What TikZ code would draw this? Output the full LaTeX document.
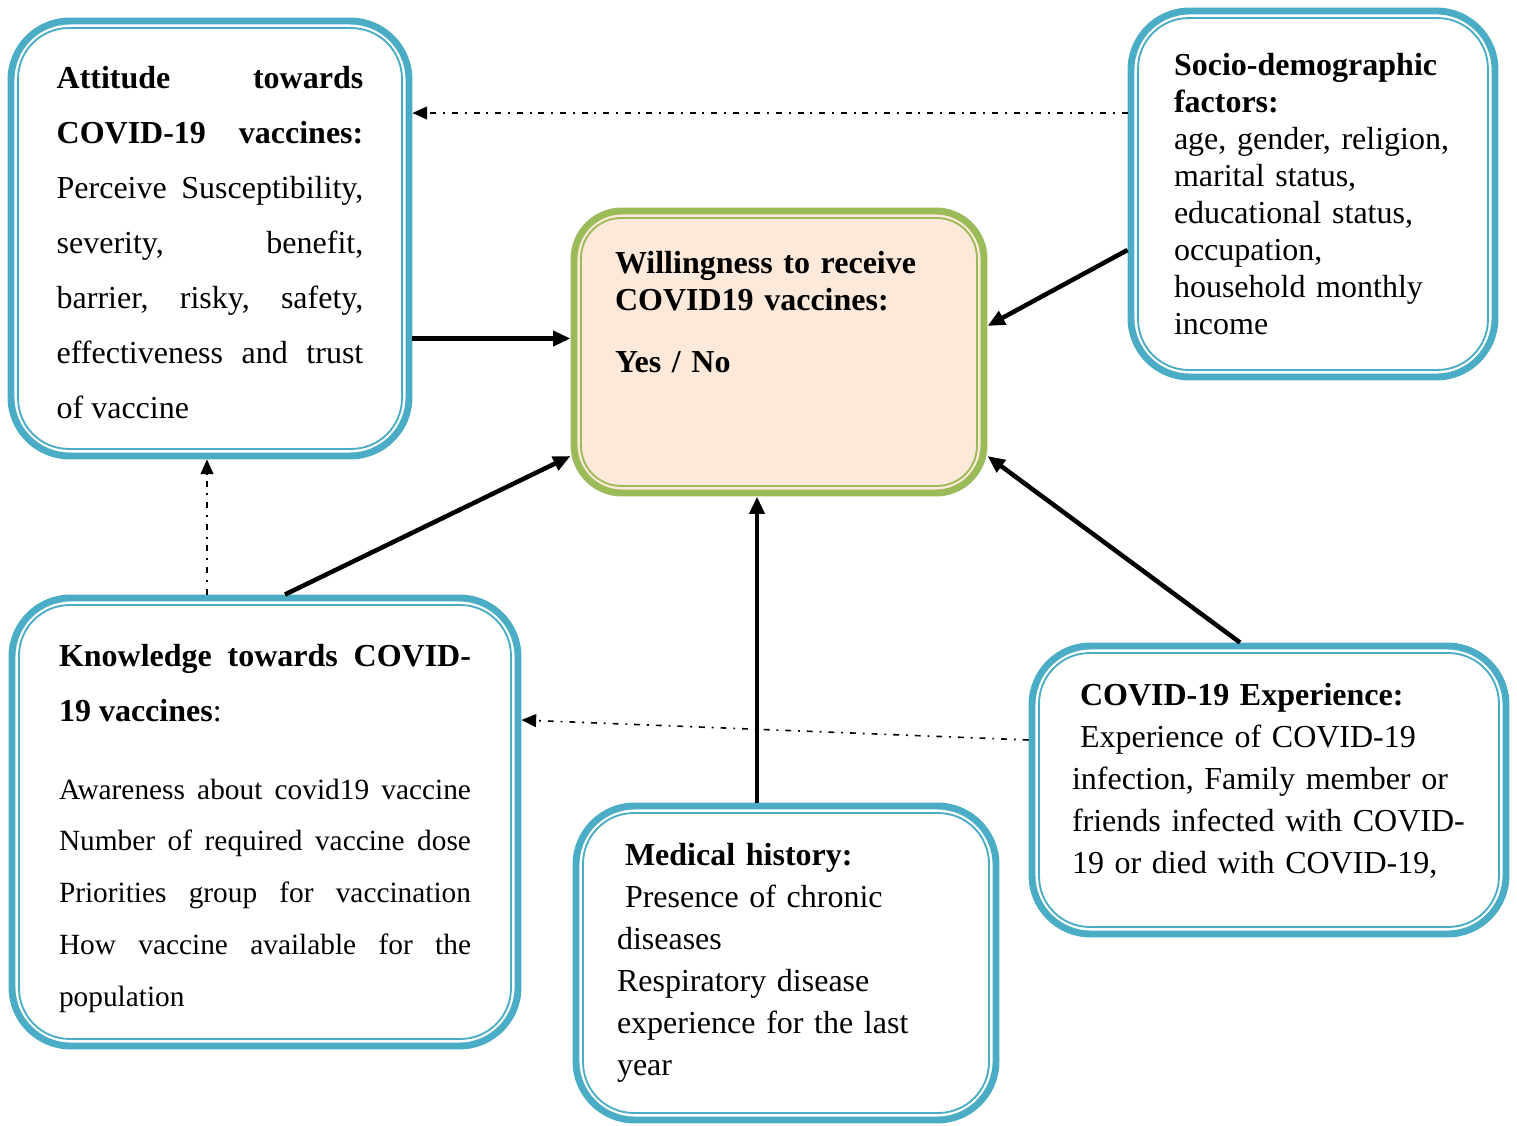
\documentclass[tikz,border=0pt]{standalone}
\usepackage{fontspec}
\setmainfont{Liberation Serif}
\usetikzlibrary{arrows.meta}
\definecolor{boxblue}{RGB}{75,172,198}
\definecolor{boxgreen}{RGB}{155,187,89}
\definecolor{boxpeach}{RGB}{253,233,217}
\tikzset{
box/.style={draw=boxblue, line width=2.6pt, rounded corners=22pt, inner sep=0pt},
inner/.style={draw=boxblue, line width=0.7pt, rounded corners=19pt},
arrow/.style={line width=1.7pt, -{Triangle[length=6.5pt,width=5.5pt]}},
dashdot/.style={line width=0.6pt, dash pattern=on 2.2pt off 2.6pt on 0.7pt off 2.6pt, -{Triangle[length=5.5pt,width=4.8pt]}}
}
\begin{document}
\begin{tikzpicture}[x=0.375pt,y=-0.375pt]
\useasboundingbox (0,0) rectangle (1517,1126);

%boxes
\node[box, minimum width=149.25pt, minimum height=163.1pt, text width=115pt, align=justify, font=\fontsize{12}{20.6}\selectfont] (att) at (210,238.5)
{\rule{0pt}{11.5pt}\textbf{Attitude towards}\linebreak\textbf{COVID-19 vaccines:}\linebreak Perceive Susceptibility,\linebreak severity, benefit,\linebreak barrier, risky, safety,\linebreak effectiveness and trust\linebreak of vaccine};
\node[box, minimum width=136.5pt, minimum height=137.25pt, text width=104.25pt, align=left, font=\fontsize{12}{13.9}\selectfont] (soc) at (1313,194)
{\textbf{Socio-demographic}\\ \textbf{factors:}\\ age, gender, religion,\\ marital status,\\ educational status,\\ occupation,\\ household monthly\\ income};
\node[box, draw=boxgreen, fill=boxpeach, rounded corners=18pt, minimum width=153.75pt, minimum height=105.75pt, text width=123pt, align=left, font=\fontsize{12}{13.9}\selectfont\bfseries] (will) at (779,352)
{\rule{0pt}{9.5pt}Willingness to receive\\ COVID19 vaccines:\\[9.4pt] Yes / No\rule[-31pt]{0pt}{31pt}};
\node[box, minimum width=189.75pt, minimum height=168pt, text width=154.5pt, align=justify, font=\fontsize{12}{20.6}\selectfont] (kno) at (265,822)
{\rule{0pt}{13pt}\textbf{Knowledge towards COVID-}\linebreak\textbf{19 vaccines}:\par\vspace{9.8pt}\fontsize{11}{19.4}\selectfont Awareness about covid19 vaccine\linebreak Number of required vaccine dose\linebreak Priorities group for vaccination\linebreak How vaccine available for the\linebreak population\par};
\node[box, minimum width=157.5pt, minimum height=117.75pt, text width=126.75pt, align=left, font=\fontsize{12}{15.75}\selectfont] (med) at (786,963)
{\hspace*{3pt}\textbf{Medical history:}\\ \hspace*{3pt}Presence of chronic\\ diseases\\ Respiratory disease\\ experience for the last\\ year};
\node[box, minimum width=177.75pt, minimum height=108pt, text width=147.75pt, align=left, font=\fontsize{12}{15.75}\selectfont] (exp) at (1269,790)
{\hspace*{3pt}\textbf{COVID-19 Experience:}\\ \hspace*{3pt}Experience of COVID-19\\ infection, Family member or\\ friends infected with COVID-\\ 19 or died with COVID-19,\rule[-8.6pt]{0pt}{8.6pt}};

%inner lines
\foreach \n in {att,soc,kno,med,exp}
\draw[inner] ([shift={(10.5,10.5)}]\n.north west) rectangle ([shift={(-10.5,-10.5)}]\n.south east);
\draw[inner, draw=boxgreen, rounded corners=15pt] ([shift={(10.5,10.5)}]will.north west) rectangle ([shift={(-10.5,-10.5)}]will.south east);

%dash dot
\coordinate (d1) at ([shift={(0,-81)}]soc.west);
\draw[dashdot] (d1) -- (d1 -| att.east);
\coordinate (d2) at ([shift={(-58,0)}]kno.north);
\draw[dashdot] (d2) -- (d2 |- att.south);
\draw[dashdot] ([shift={(0,-50)}]exp.west) -- ([shift={(0,-102)}]kno.east);

%arrows
\coordinate (a1) at ([shift={(0,100)}]att.east);
\draw[arrow] (a1) -- (a1 -| will.west);
\draw[arrow] ([shift={(0,56)}]soc.west) -- ([shift={(0,-26)}]will.east);
\draw[arrow] ([shift={(20,0)}]kno.north) -- ([shift={(0,104)}]will.west);
\coordinate (a2) at ([shift={(-29,0)}]med.north);
\draw[arrow] (a2) -- (a2 |- will.south);
\draw[arrow] ([shift={(-29,0)}]exp.north) -- ([shift={(0,104)}]will.east);

\end{tikzpicture}
\end{document}
